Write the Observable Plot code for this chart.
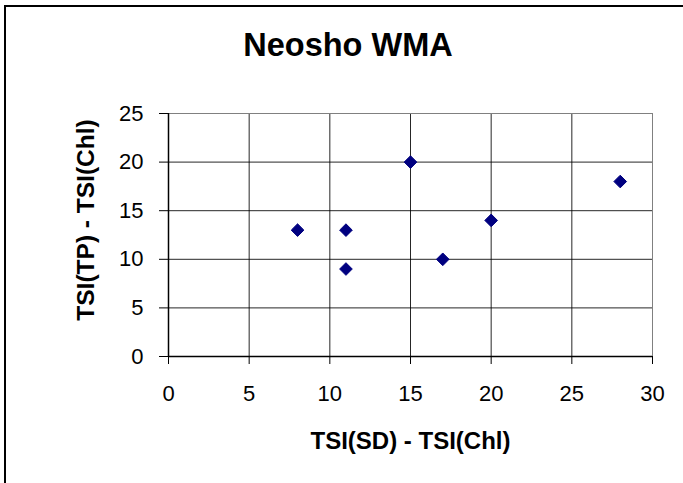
<!DOCTYPE html>
<html>
<head>
<meta charset="utf-8">
<script src="https://cdn.jsdelivr.net/npm/d3@7"></script>
<script src="https://cdn.jsdelivr.net/npm/@observablehq/plot@0.6"></script>
<style>
  html, body { margin: 0; padding: 0; background: white; }
  #chart { position: relative; width: 683px; height: 483px; overflow: hidden; }
  #frame { position: absolute; left: 4px; top: 5px; width: 700px; height: 500px; border: 2px solid black; box-sizing: border-box; pointer-events: none; }
</style>
</head>
<body>
<div id="chart"><div id="frame"></div></div>
<script>
const title = "Neosho WMA";
const xLabel = "TSI(SD) - TSI(Chl)";
const yLabel = "TSI(TP) - TSI(Chl)";
const xValues = [8, 11, 11, 15, 17, 20, 28];
const yValues = [13, 13, 9, 20, 10, 14, 18];
const xTicks = [0, 5, 10, 15, 20, 25, 30];
const yTicks = [0, 5, 10, 15, 20, 25];

const points = xValues.map((x, i) => ({x, y: yValues[i]}));
const font = "'Liberation Sans', Arial, Helvetica, sans-serif";

const plot = Plot.plot({
  width: 683,
  height: 483,
  marginLeft: 168,
  marginRight: 31,
  marginTop: 113,
  marginBottom: 127,
  x: {domain: [0, 30]},
  y: {domain: [0, 25]},
  style: {fontFamily: font, background: "transparent", color: "black"},
  marks: [
    Plot.ruleY(yTicks.slice(1, -1), {stroke: "black", strokeOpacity: 0.85}),
    Plot.ruleX(xTicks.slice(1, -1), {stroke: "black", strokeOpacity: 0.85}),
    Plot.ruleY([yTicks[yTicks.length - 1]], {stroke: "#808080"}),
    Plot.ruleX([xTicks[xTicks.length - 1]], {stroke: "#808080"}),
    Plot.ruleY([0], {stroke: "black", strokeWidth: 1.5}),
    Plot.ruleX([0], {stroke: "black", strokeWidth: 1.5}),
    Plot.axisX({ticks: xTicks, tickSize: 8, tickPadding: 21, fontSize: 22, label: null, stroke: "black", strokeOpacity: 1}),
    Plot.axisY({ticks: yTicks, tickSize: 9, tickPadding: 16, fontSize: 22, label: null, stroke: "black", strokeOpacity: 1}),
    Plot.dot(points, {x: "x", y: "y", symbol: "diamond2", r: 5.7, fill: "#000080", stroke: "#000080", strokeWidth: 1}),
    Plot.text([title], {frameAnchor: "top", lineAnchor: "middle", textAnchor: "middle", dx: -62.5, dy: -67.7, fontSize: 32.5, fontWeight: "bold", fill: "black"}),
    Plot.text([xLabel], {frameAnchor: "bottom", lineAnchor: "middle", textAnchor: "middle", dy: 84.5, fontSize: 24, fontWeight: "bold", fill: "black"}),
    Plot.text([yLabel], {frameAnchor: "left", lineAnchor: "middle", textAnchor: "middle", dx: -82, dy: -15, rotate: -90, fontSize: 24.5, fontWeight: "bold", fill: "black"})
  ]
});
plot.style.position = "absolute";
plot.style.left = "0px";
plot.style.top = "0px";
document.getElementById("chart").appendChild(plot);
</script>
</body>
</html>
